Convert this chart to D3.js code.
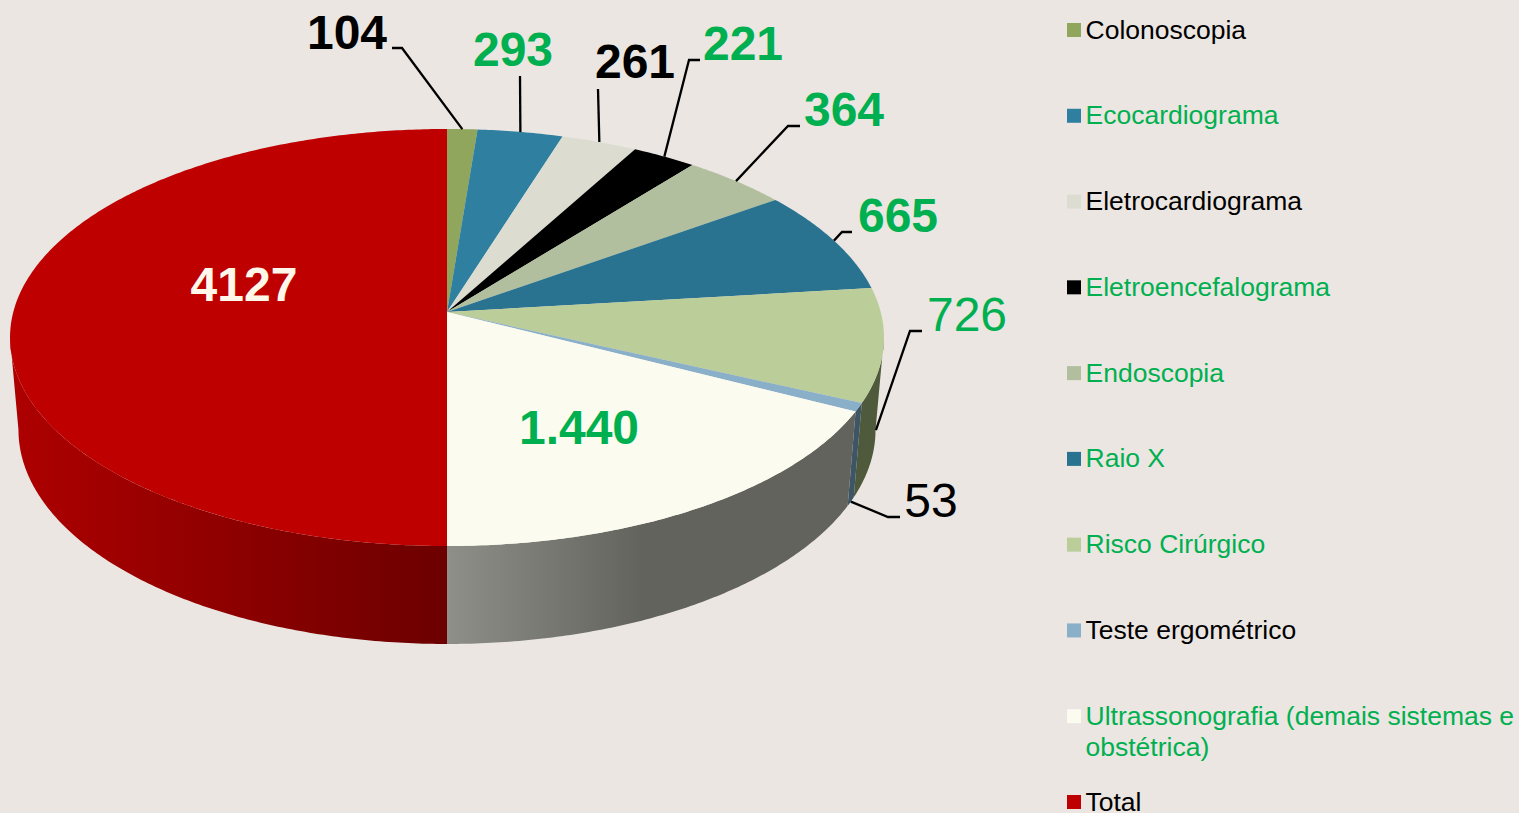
<!DOCTYPE html>
<html lang="pt">
<head>
<meta charset="utf-8">
<title>Exames</title>
<script src="https://cdn.jsdelivr.net/npm/d3@7"></script>
<style>
    html, body { margin: 0; padding: 0; background: #ebe6e2; overflow: hidden; }
    svg { display: block; font-family: "Liberation Sans", Arial, sans-serif; }
</style>
</head>
<body>
<div id="chart"></div>
<script>
// Chart data
const categories = ['Colonoscopia', 'Ecocardiograma', 'Eletrocardiograma', 'Eletroencefalograma', 'Endoscopia',
    'Raio X', 'Risco Cirúrgico', 'Teste ergométrico', 'Ultrassonografia (demais sistemas e obstétrica)', 'Total'];
const values = [104, 293, 261, 221, 364, 665, 726, 53, 1440, 4127];
const valueLabels = ['104', '293', '261', '221', '364', '665', '726', '53', '1.440', '4127'];

// Styles, same order as the data
const sliceColors = ['#8fa65c', '#2e7fa0', '#dcddd0', '#000000', '#b2bf9f', '#2a7390', '#bbcd98', '#8aafc8', '#fbfbf0', '#bf0000'];
const wallColors = ['#5a6839', '#1d5064', '#8a8b82', '#000000', '#6f7860', '#1a485a', '#4f5a3c', '#3d5564', 'url(#wallGrey)', 'url(#wallRed)'];
const legendColors = ['#000000', '#00b050', '#000000', '#00b050', '#00b050', '#00b050', '#00b050', '#000000', '#00b050', '#000000'];
const labelColors = ['#000000', '#00b050', '#000000', '#00b050', '#00b050', '#00b050', '#00b050', '#000000', '#00b050', '#fff8ea'];
const labelWeights = ['bold', 'bold', 'bold', 'bold', 'bold', 'bold', 'normal', 'normal', 'bold', 'bold'];

// Label placement: [label x, label baseline], leader elbow and leader end
const labelSpots = [[347, 49], [513, 66], [635, 78], [743, 60], [844, 126], [898, 232], [967, 331], [931, 517], [579, 444], [244, 301]];
const leaderTurns = [
    [[402, 48], [392, 48]],
    [[520, 76]],
    [[598, 89]],
    [[689, 60], [700, 60]],
    [[788, 126], [800, 126]],
    [[842, 232], [852, 232]],
    [[910, 331], [922, 331]],
    [[888, 517], [900, 517]],
    null,
    null
];
// Where a leader starts down the side wall (0 = top rim, 1 = bottom rim)
const leaderDepth = [0, 0, 0, 0, 0, 0, 0.92, 1, 0, 0];

const width = 1519;
const height = 813;

// Perspective view of the disc: the top and bottom rims are two projected circles
const tilt = 0.1223;
const topRim = { cx: 447, cy: 312, a: 433.7, b: 205.4 };
const bottomRim = { cx: 447, cy: 403.8, a: 425.3, b: 210.8 };

// The wall's outline runs between the widest points of the two rims
const wallStart = Math.acos(-tilt);
const wallEnd = 2 * Math.PI - wallStart;

function project(rim, angle) {
    const u = Math.sin(angle);
    const v = -Math.cos(angle);
    const w = 1 - tilt * v;
    return [rim.cx + rim.a * u / w, rim.cy + rim.b * v / w];
}

function arcPoints(rim, from, to) {
    const steps = Math.max(2, Math.ceil(Math.abs(to - from) / 0.01));
    return d3.range(steps + 1).map(i => project(rim, from + (to - from) * i / steps));
}

const svg = d3.select('#chart')
    .append('svg')
    .attr('width', width)
    .attr('height', height);

const defs = svg.append('defs');

function addWallGradient(id, x1, x2, stops) {
    const gradient = defs.append('linearGradient')
        .attr('id', id)
        .attr('gradientUnits', 'userSpaceOnUse')
        .attr('x1', x1).attr('x2', x2)
        .attr('y1', 0).attr('y2', 0);
    stops.forEach(s => gradient.append('stop').attr('offset', s[0]).attr('stop-color', s[1]));
}

addWallGradient('wallGrey', 447, 885, [[0, '#8e8f88'], [0.45, '#62635c'], [1, '#62635c']]);
addWallGradient('wallRed', 447, 10, [[0, '#6c0000'], [0.5, '#8e0000'], [1, '#ae0000']]);

const pie = d3.pie().sort(null).value(d => d);
const slices = pie(values).map((d, i) => ({ ...d, index: i }));
const line = d3.line();

// Side wall, only the slices facing the viewer
svg.append('g').selectAll('path')
    .data(slices.filter(d => d.endAngle > wallStart && d.startAngle < wallEnd))
    .enter()
    .append('path')
    .attr('d', d => {
        const from = Math.max(d.startAngle, wallStart);
        const to = Math.min(d.endAngle, wallEnd);
        return line(arcPoints(topRim, from, to).concat(arcPoints(bottomRim, to, from))) + 'Z';
    })
    .attr('fill', d => wallColors[d.index]);

// Top surface
svg.append('g').selectAll('path')
    .data(slices)
    .enter()
    .append('path')
    .attr('d', d => line([[topRim.cx, topRim.cy]].concat(arcPoints(topRim, d.startAngle, d.endAngle))) + 'Z')
    .attr('fill', d => sliceColors[d.index]);

// Leader lines
svg.append('g').selectAll('path')
    .data(slices.filter(d => leaderTurns[d.index]))
    .enter()
    .append('path')
    .attr('d', d => {
        const mid = (d.startAngle + d.endAngle) / 2;
        const top = project(topRim, mid);
        const bottom = project(bottomRim, mid);
        const depth = leaderDepth[d.index];
        const start = [top[0] + (bottom[0] - top[0]) * depth, top[1] + (bottom[1] - top[1]) * depth];
        return line([start].concat(leaderTurns[d.index]));
    })
    .attr('fill', 'none')
    .attr('stroke', '#000')
    .attr('stroke-width', 2.3);

// Value labels
svg.append('g').selectAll('text')
    .data(slices)
    .enter()
    .append('text')
    .attr('x', d => labelSpots[d.index][0])
    .attr('y', d => labelSpots[d.index][1])
    .attr('text-anchor', 'middle')
    .style('font-size', '48px')
    .style('font-weight', d => labelWeights[d.index])
    .style('fill', d => labelColors[d.index])
    .text(d => valueLabels[d.index]);

// Legend
const legendY = d3.scaleLinear().domain([0, categories.length - 1]).range([29.5, 801.5]);
const legend = svg.append('g').selectAll('g')
    .data(categories)
    .enter()
    .append('g')
    .attr('transform', (d, i) => `translate(1067,${legendY(i)})`);

legend.append('rect')
    .attr('y', -6.5)
    .attr('width', 14)
    .attr('height', 14)
    .attr('fill', (d, i) => sliceColors[i]);

legend.append('text')
    .attr('x', 18.5)
    .attr('y', 9)
    .style('font-size', '26.5px')
    .style('fill', (d, i) => legendColors[i])
    .each(function (d) {
        // Wrap long names to the space left in the window
        const text = d3.select(this);
        const maxWidth = width - 1086;
        let row = [];
        let tspan = text.append('tspan').attr('x', 18.5);
        d.split(' ').forEach(word => {
            row.push(word);
            tspan.text(row.join(' '));
            if (tspan.node().getComputedTextLength() > maxWidth && row.length > 1) {
                row.pop();
                tspan.text(row.join(' '));
                row = [word];
                tspan = text.append('tspan').attr('x', 18.5).attr('dy', 31).text(word);
            }
        });
    });
</script>
</body>
</html>
